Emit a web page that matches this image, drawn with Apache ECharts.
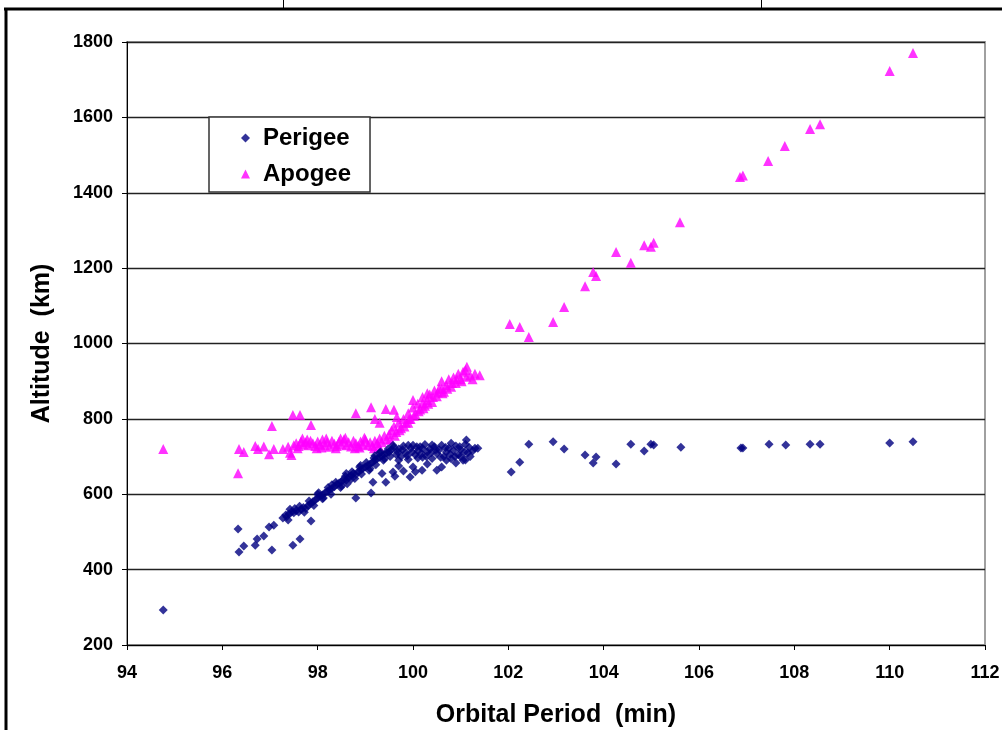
<!DOCTYPE html>
<html>
<head>
<meta charset="utf-8">
<script src="https://cdn.jsdelivr.net/npm/echarts@6/dist/echarts.min.js"></script>
<style>
html,body{margin:0;padding:0;background:#fff;}
#chart{width:1002px;height:730px;}
</style>
</head>
<body>
<div id="chart"></div>
<script>
// Orbital period (min), altitude (km)
const seriesNames = ["Perigee", "Apogee"];
const xTicks = [94, 96, 98, 100, 102, 104, 106, 108, 110, 112];
const yTicks = [200, 400, 600, 800, 1000, 1200, 1400, 1600, 1800];

const perigee = [
  [94.76,293],[96.33,508],[96.35,447],[96.45,463],[96.69,465],[96.73,481],[96.87,489],[96.98,513],[97.04,452],
  [97.08,518],[97.27,537],[97.33,545],[97.42,560],[97.48,465],[97.45,552],[97.63,481],[97.86,529],
  [97.35,540],[97.4,548],[97.5,551],[97.55,556],[97.6,553],[97.65,560],[97.7,565],[97.75,562],[97.8,570],
  [97.85,574],[97.9,580],[97.95,585],[98.0,590],[98.05,596],[98.1,598],[98.15,603],[98.2,607],[98.25,612],
  [98.3,615],[98.35,620],[98.4,626],[98.45,630],[98.5,634],[98.55,640],[98.6,637],[98.65,645],[98.7,650],
  [98.75,655],[98.8,652],[98.85,660],[98.9,664],[98.95,668],[99.0,672],[99.05,676],[99.1,680],[99.15,685],
  [99.2,690],[99.25,694],[99.3,698],[99.35,702],[99.4,706],[99.45,710],[99.5,712],
  [97.38,532],[97.52,562],[97.62,568],[97.72,552],[97.82,582],[97.92,570],[98.02,604],[98.12,590],[98.22,618],
  [98.28,600],[98.38,632],[98.48,618],[98.58,648],[98.62,628],[98.72,660],[98.78,642],[98.88,672],[98.92,654],
  [99.02,684],[99.08,664],[99.18,696],[99.22,678],[99.32,712],[99.38,690],[99.48,720],[99.52,700],
  [98.1,588],[98.3,625],[98.5,622],[98.7,640],[98.9,676],[99.1,668],[99.3,710],[99.4,694],[98.0,600],[98.6,655],[99.2,702],
  [98.8,590],[99.12,603],[99.16,632],[99.43,632],[99.58,659],[99.62,648],[99.94,646],[100.0,672],[100.19,664],
  [100.5,664],[100.6,672],[100.9,683],[101.1,691],[99.8,662],[100.3,680],[99.35,655],[99.7,675],[100.05,660],
  [99.55,718],[99.6,725],[99.65,705],[99.7,720],[99.75,700],[99.8,728],[99.85,710],[99.9,692],[99.95,722],
  [100.0,730],[100.05,705],[100.1,715],[100.15,726],[100.2,698],[100.25,732],[100.3,712],[100.35,720],[100.4,695],
  [100.45,726],[100.5,708],[100.55,718],[100.6,730],[100.65,700],[100.7,712],[100.75,722],[100.8,694],[100.85,716],
  [100.9,728],[100.95,705],[101.0,718],[101.05,690],[101.1,733],[101.12,744],[101.15,710],[101.2,700],[101.25,715],
  [101.3,722],[101.36,722],[99.7,690],[100.1,696],[100.4,731],[100.7,690],[101.0,700],[99.9,730],[100.2,722],[100.8,735],
  [99.58,730],[99.68,712],[99.78,718],[99.88,702],[99.98,712],[100.08,726],[100.18,708],[100.28,700],[100.38,710],
  [100.48,718],[100.58,698],[100.68,724],[100.78,706],[100.88,700],[100.98,726],[101.08,712],[101.18,724],
  [102.06,659],[102.24,685],[102.43,733],[102.94,739],[103.17,720],[103.61,704],[103.78,683],[103.84,699],[104.26,680],
  [104.57,733],[104.85,715],[104.99,733],[105.05,731],[105.62,725],[106.88,723],[106.92,723],[107.47,733],[107.82,731],
  [108.33,733],[108.54,733],[110.0,736],[110.49,739]
];

const apogee = [
  [94.76,720],[96.33,656],[96.35,720],[96.45,712],[96.69,728],[96.75,720],[96.87,727],[96.98,706],[97.04,781],
  [97.08,720],[97.27,720],[97.42,710],[97.45,704],[97.38,726],[97.48,810],[97.63,810],[97.86,784],
  [97.5,730],[97.55,735],[97.6,728],[97.65,740],[97.7,732],[97.75,738],[97.8,730],[97.85,742],[97.9,735],
  [97.95,728],[98.0,740],[98.05,733],[98.1,745],[98.15,730],[98.2,738],[98.25,726],[98.3,742],[98.35,734],
  [98.4,728],[98.45,740],[98.5,732],[98.55,745],[98.6,730],[98.65,738],[98.7,727],[98.75,742],[98.8,735],
  [98.85,728],[98.9,740],[98.95,732],[99.0,745],[99.05,730],[99.1,738],[99.15,728],[99.2,742],[99.25,735],
  [99.3,748],[99.35,738],[99.4,755],[99.45,745],
  [97.58,722],[97.78,745],[97.98,722],[98.18,748],[98.38,722],[98.58,750],[98.78,722],[98.98,750],[99.18,722],
  [97.68,748],[98.08,724],[98.48,748],[98.88,724],[99.28,728],
  [98.8,815],[99.12,831],[99.43,826],[99.6,824],[99.66,805],[99.2,800],[99.3,790],
  [99.5,760],[99.55,770],[99.6,780],[99.65,765],[99.7,790],[99.75,775],[99.8,800],[99.85,790],[99.9,815],
  [99.95,800],[100.0,830],[100.05,812],[100.1,840],[100.15,825],[100.2,858],[100.25,835],[100.3,850],[100.35,865],
  [100.4,845],[100.45,875],[100.5,860],[100.55,880],[100.6,900],[100.65,872],[100.7,890],[100.75,905],[100.8,885],
  [100.85,910],[100.9,895],[100.95,920],[101.0,905],[101.05,925],[101.1,930],[101.13,938],[101.2,915],[101.25,905],
  [101.3,920],[101.4,916],[100.0,850],[100.3,868],[100.6,880],[99.9,790],[100.2,842],
  [99.52,745],[99.62,755],[99.72,770],[99.82,780],[99.92,800],[100.02,808],[100.12,820],[100.22,828],[100.32,840],
  [100.42,858],[100.52,870],[100.62,868],[100.72,880],[100.82,895],[100.92,905],[101.02,900],[101.12,912],
  [102.03,1052],[102.24,1044],[102.43,1017],[102.94,1057],[103.17,1097],[103.61,1152],[103.78,1190],[103.84,1179],
  [104.26,1243],[104.57,1214],[104.85,1261],[104.99,1257],[105.05,1267],[105.6,1322],[106.86,1442],[106.92,1446],
  [107.45,1484],[107.8,1524],[108.33,1569],[108.54,1582],[110.0,1723],[110.49,1771]
];

const chart = echarts.init(document.getElementById('chart'), null, {renderer: 'canvas'});
const FONT = '"Liberation Sans", Arial, sans-serif';
const labelStyle = {color: '#000', fontWeight: 'bold', fontSize: 18, fontFamily: FONT};

chart.setOption({
  animation: false,
  backgroundColor: '#fff',
  grid: {left: 127, top: 42, right: 17, bottom: 85, outerBoundsMode: 'none', containLabel: false,
         show: true, borderColor: '#a0a0a0', borderWidth: 2, backgroundColor: 'transparent'},
  xAxis: {
    type: 'value', min: xTicks[0], max: xTicks[xTicks.length - 1], interval: 2,
    name: 'Orbital Period  (min)', nameLocation: 'middle', nameGap: 58,
    nameTextStyle: {color: '#000', fontWeight: 'bold', fontSize: 25, fontFamily: FONT},
    axisLine: {show: true, lineStyle: {color: '#000', width: 1}},
    axisTick: {show: true, length: 5, inside: false, lineStyle: {color: '#000'}},
    axisLabel: Object.assign({margin: 19}, labelStyle),
    splitLine: {show: false}
  },
  yAxis: {
    type: 'value', min: yTicks[0], max: yTicks[yTicks.length - 1], interval: 200,
    name: 'Altitude  (km)', nameLocation: 'middle', nameGap: 72, nameRotate: 90,
    nameTextStyle: {color: '#000', fontWeight: 'bold', fontSize: 25, fontFamily: FONT},
    axisLine: {show: true, lineStyle: {color: '#000', width: 1}},
    axisTick: {show: true, length: 5, lineStyle: {color: '#000'}},
    axisLabel: Object.assign({margin: 14, formatter: function (v) { return String(v); }}, labelStyle),
    splitLine: {show: true, lineStyle: {color: '#222', width: 1.3}}
  },
  legend: {
    orient: 'vertical', left: 209, top: 117,
    padding: [9, 19, 6, 32], itemGap: 12, itemWidth: 9, itemHeight: 9,
    backgroundColor: '#fff', borderColor: '#333', borderWidth: 1.5,
    textStyle: {color: '#000', fontWeight: 'bold', fontSize: 24, fontFamily: FONT, padding: [0, 0, 0, 8]},
    data: [
      {name: seriesNames[0], icon: 'diamond'},
      {name: seriesNames[1], icon: 'triangle'}
    ]
  },
  graphic: [
    {type: 'line', shape: {x1: 4, y1: 9, x2: 1002, y2: 9}, style: {stroke: '#000', lineWidth: 3}, z: 100},
    {type: 'line', shape: {x1: 6, y1: 8, x2: 6, y2: 730}, style: {stroke: '#000', lineWidth: 3}, z: 100},
    {type: 'line', shape: {x1: 283.5, y1: 0, x2: 283.5, y2: 8}, style: {stroke: '#000', lineWidth: 1}, z: 100},
    {type: 'line', shape: {x1: 761.5, y1: 0, x2: 761.5, y2: 8}, style: {stroke: '#000', lineWidth: 1}, z: 100}
  ],
  series: [
    {name: seriesNames[0], type: 'scatter', symbol: 'diamond', symbolSize: 9,
     itemStyle: {color: '#000080'}, data: perigee, z: 3},
    {name: seriesNames[1], type: 'scatter', symbol: 'triangle', symbolSize: 10,
     itemStyle: {color: '#FF00FF'}, data: apogee, z: 2}
  ]
});
</script>
</body>
</html>
